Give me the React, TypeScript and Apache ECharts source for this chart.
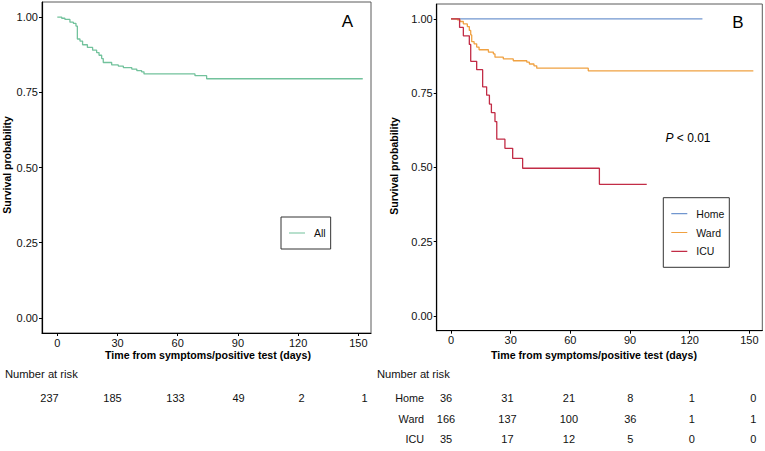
import React, { useEffect, useRef } from "react";
import * as echarts from "echarts";

// ---- data ----
const timeTicks = [0, 30, 60, 90, 120, 150];
const survTicks = [0, 0.25, 0.5, 0.75, 1];

const allTimes = [0, 2.2, 3.8, 6.3, 8.0, 9.3, 10.0, 11.3, 12.6, 15.0, 17.6, 19.6, 20.8, 22.1, 22.9, 27.1, 30.4, 32.9, 37.1, 39.6, 42.0, 43.2, 68.6, 74.4, 152.2];
const allSurv = [1, 0.996, 0.992, 0.983, 0.979, 0.97, 0.927, 0.92, 0.908, 0.899, 0.89, 0.882, 0.873, 0.862, 0.849, 0.841, 0.837, 0.832, 0.827, 0.822, 0.818, 0.811, 0.805, 0.795, 0.795];

const homeTimes = [0, 126.4];
const homeSurv = [1, 1];

const wardTimes = [0, 3.2, 4.5, 6.2, 8.2, 9.2, 9.9, 10.4, 11.6, 12.9, 14.1, 18.8, 21.3, 22.1, 26.3, 31.3, 38.1, 39.4, 41.7, 43.1, 69, 152];
const wardSurv = [1, 0.997, 0.991, 0.983, 0.974, 0.961, 0.946, 0.923, 0.916, 0.905, 0.896, 0.888, 0.882, 0.871, 0.865, 0.859, 0.854, 0.848, 0.842, 0.834, 0.825, 0.825];

const icuTimes = [0, 4.3, 6.2, 9.2, 9.9, 12.9, 15.9, 17.9, 19.3, 20.3, 22.1, 23, 27.1, 31, 36, 74.6, 98.4];
const icuSurv = [1, 0.971, 0.943, 0.914, 0.857, 0.829, 0.771, 0.743, 0.713, 0.684, 0.654, 0.595, 0.564, 0.53, 0.497, 0.443, 0.443];

const riskTimes = [0, 30, 60, 90, 120, 150];
const riskAll = [237, 185, 133, 49, 2, 1];
const riskHome = [36, 31, 21, 8, 1, 0];
const riskWard = [166, 137, 100, 36, 1, 1];
const riskIcu = [35, 17, 12, 5, 0, 0];
const groupNames = ["Home", "Ward", "ICU"];

const FONT = "Liberation Sans, Arial, sans-serif";
const TXT = "#111";
// legend glyph: a thin horizontal bar centred in a 16x12 box (corner specks fix the bounding box)
const LINE_ICON =
  "path://M0,0L0.01,0L0,0.01Z M0,5.4L16,5.4L16,6.6L0,6.6Z M16,12L15.99,12L16,11.99Z";

const pairs = (xs: number[], ys: number[]) => xs.map((x, i) => [x, ys[i]]);

export default function App() {
  const ref = useRef<HTMLDivElement>(null);
  useEffect(() => {
    if (!ref.current) return;
    const chart = echarts.init(ref.current, undefined, { renderer: "svg" });

    const xAxisPlot = (gi: number, min: number, max: number) => ({
      type: "value",
      gridIndex: gi,
      min,
      max,
      axisLine: { show: true, onZero: false, lineStyle: { color: "#000", width: 1.2 } },
      axisTick: { show: true, length: 3, customValues: timeTicks, lineStyle: { color: "#000" } },
      axisLabel: { customValues: timeTicks, fontSize: 11, color: TXT, fontFamily: FONT, margin: 4 },
      splitLine: { show: false },
    });
    const yAxisPlot = (gi: number) => ({
      type: "value",
      gridIndex: gi,
      min: -0.05,
      max: 1.05,
      axisLine: { show: true, onZero: false, lineStyle: { color: "#000", width: 1.2 } },
      axisTick: { show: true, length: 3, customValues: survTicks, lineStyle: { color: "#000" } },
      axisLabel: {
        customValues: survTicks,
        fontSize: 11,
        color: TXT,
        fontFamily: FONT,
        margin: 4,
        formatter: (v: number) => v.toFixed(2),
      },
      splitLine: { show: false },
    });
    const hiddenX = (gi: number) => ({
      type: "value",
      gridIndex: gi,
      min: 0,
      max: 150,
      axisLine: { show: false },
      axisTick: { show: false },
      axisLabel: { show: false },
      splitLine: { show: false },
    });

    const lineSeries = (name: string, xs: number[], ys: number[], color: string, idx: number) => ({
      name,
      type: "line",
      step: "end",
      xAxisIndex: idx,
      yAxisIndex: idx,
      data: pairs(xs, ys),
      symbol: "none",
      showSymbol: false,
      lineStyle: { color, width: 1.3 },
      itemStyle: { color },
      silent: true,
    });

    const riskSeries = (name: string, row: string, vals: number[], idx: number) => ({
      name,
      type: "scatter",
      xAxisIndex: idx,
      yAxisIndex: idx,
      symbolSize: 1,
      itemStyle: { color: "rgba(0,0,0,0)", opacity: 1 },
      silent: true,
      data: riskTimes.map((t, i) => [t, row, vals[i]]),
      label: {
        show: true,
        position: "inside",
        fontSize: 11,
        color: TXT,
        opacity: 1,
        fontFamily: FONT,
        formatter: (p: any) => String(p.value[2]),
      },
    });

    const legendCommon = {
      orient: "vertical",
      padding: [10, 5, 10, 8],
      itemWidth: 16,
      itemHeight: 12,
      borderColor: "#333",
      borderWidth: 1,
      icon: LINE_ICON,
      textStyle: { fontSize: 10.5, color: TXT, fontFamily: FONT, padding: [0, 0, 0, 4], lineHeight: 12 },
      selectedMode: false,
    };

    chart.setOption({
      animation: false,
      backgroundColor: "#fff",
      grid: [
        { left: 42, top: 2, width: 329, height: 331, show: true, borderColor: "#5a5a5a", borderWidth: 1, containLabel: false },
        { left: 436.7, top: 4, width: 325.6, height: 326.7, show: true, borderColor: "#5a5a5a", borderWidth: 1, containLabel: false },
        { left: 49.5, top: 388, width: 315, height: 20 },
        { left: 446, top: 388, width: 307.3, height: 61.5 },
      ],
      xAxis: [xAxisPlot(0, -7.62, 156.3), xAxisPlot(1, -7.2, 156.5), hiddenX(2), hiddenX(3)],
      yAxis: [
        yAxisPlot(0),
        yAxisPlot(1),
        {
          type: "category",
          gridIndex: 2,
          data: ["All"],
          axisLine: { show: false },
          axisTick: { show: false },
          axisLabel: { show: false },
        },
        {
          type: "category",
          gridIndex: 3,
          data: groupNames,
          inverse: true,
          axisLine: { show: false },
          axisTick: { show: false },
          axisLabel: { show: true, fontSize: 10.8, color: TXT, fontFamily: FONT, margin: 22 },
        },
      ],
      legend: [
        { ...legendCommon, data: ["All"], left: 281, top: 217 },
        { ...legendCommon, data: groupNames, left: 663.3, top: 197.7, itemGap: 6.8 },
      ],
      series: [
        lineSeries("All", allTimes, allSurv, "#72c29c", 0),
        lineSeries("Home", homeTimes, homeSurv, "#7196cf", 1),
        lineSeries("Ward", wardTimes, wardSurv, "#f0a141", 1),
        lineSeries("ICU", icuTimes, icuSurv, "#c22c46", 1),
        riskSeries("riskAll", "All", riskAll, 2),
        riskSeries("riskHome", "Home", riskHome, 3),
        riskSeries("riskWard", "Ward", riskWard, 3),
        riskSeries("riskIcu", "ICU", riskIcu, 3),
      ],
      graphic: [
        { type: "text", x: 347.5, y: 21, style: { text: "A", fontSize: 17, fill: "#000", fontFamily: FONT, align: "center", verticalAlign: "middle" } },
        { type: "text", x: 738, y: 22.5, style: { text: "B", fontSize: 17, fill: "#000", fontFamily: FONT, align: "center", verticalAlign: "middle" } },
        {
          type: "text",
          x: 688,
          y: 137.5,
          style: {
            text: "{i|P} < 0.01",
            fontSize: 12,
            fill: "#000",
            fontFamily: FONT,
            align: "center",
            verticalAlign: "middle",
            rich: { i: { fontStyle: "italic", fontSize: 12, fontFamily: FONT, fill: "#000" } },
          },
        },
        { type: "text", x: 7, y: 165, rotation: Math.PI / 2, style: { text: "Survival probability", fontSize: 10.5, fontWeight: "bold", fill: "#000", fontFamily: FONT, align: "center", verticalAlign: "middle" } },
        { type: "text", x: 394, y: 166, rotation: Math.PI / 2, style: { text: "Survival probability", fontSize: 10.5, fontWeight: "bold", fill: "#000", fontFamily: FONT, align: "center", verticalAlign: "middle" } },
        { type: "text", x: 208, y: 355, style: { text: "Time from symptoms/positive test (days)", fontSize: 10.6, fontWeight: "bold", fill: "#000", fontFamily: FONT, align: "center", verticalAlign: "middle" } },
        { type: "text", x: 594, y: 355, style: { text: "Time from symptoms/positive test (days)", fontSize: 10.6, fontWeight: "bold", fill: "#000", fontFamily: FONT, align: "center", verticalAlign: "middle" } },
        { type: "text", x: 5, y: 373.5, style: { text: "Number at risk", fontSize: 11.2, fill: TXT, fontFamily: FONT, align: "left", verticalAlign: "middle" } },
        { type: "text", x: 377, y: 373.5, style: { text: "Number at risk", fontSize: 11.2, fill: TXT, fontFamily: FONT, align: "left", verticalAlign: "middle" } },
      ],
    });

    return () => chart.dispose();
  }, []);

  return <div ref={ref} style={{ position: "absolute", left: 0, top: 0, width: 765, height: 451 }} />;
}
